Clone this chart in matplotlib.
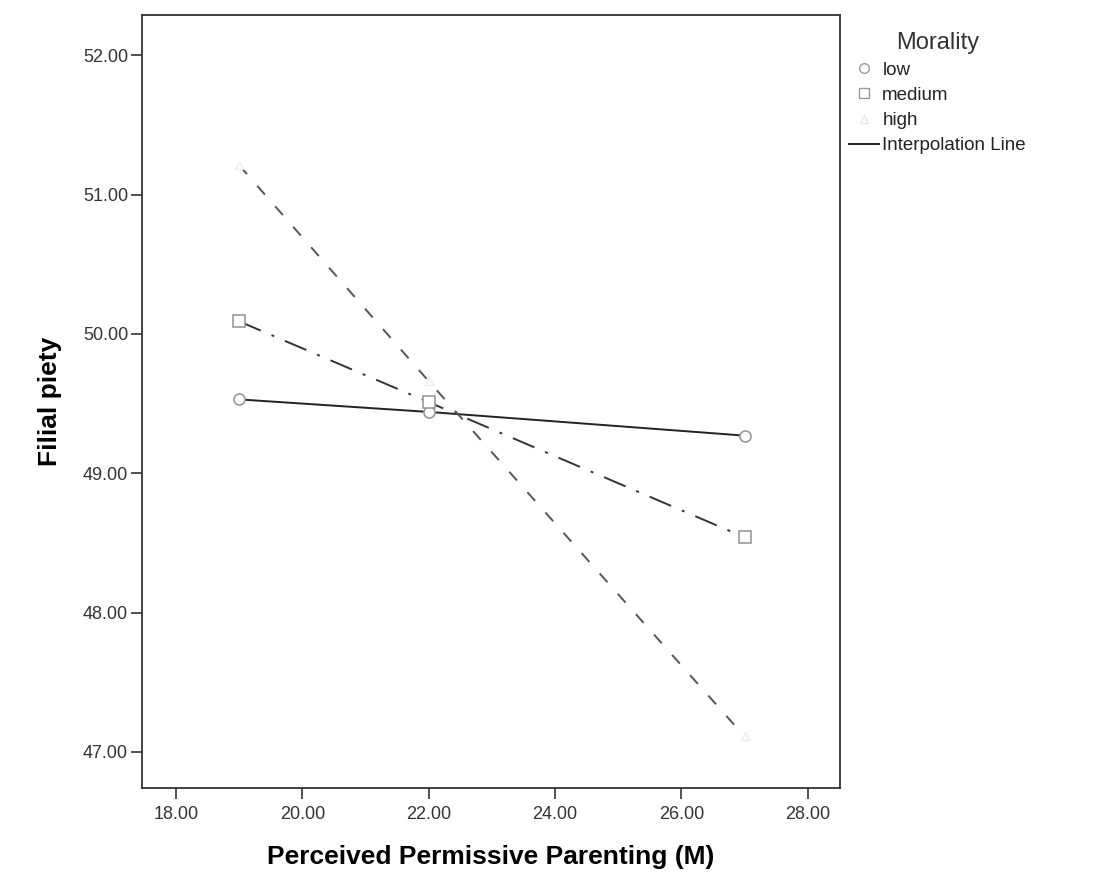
import matplotlib
matplotlib.use("Agg")
import matplotlib.pyplot as plt
from matplotlib.lines import Line2D

plt.rcParams['font.family'] = ['Liberation Sans', 'DejaVu Sans']

x_levels = [19.0, 22.0, 27.0]
low = [49.53, 49.44, 49.27]
medium = [50.09, 49.51, 48.54]
high = [51.21, 49.66, 47.11]
xticks = [18, 20, 22, 24, 26, 28]
yticks = [47, 48, 49, 50, 51, 52]

fig = plt.figure(figsize=(11.11, 8.86), dpi=100)
ax = fig.add_axes([142/1111, 1-788/886, (840-142)/1111, (788-15)/886])

ax.plot(x_levels, low, color='#222222', lw=1.4, ls='-',
        marker='o', ms=8, mfc='white', mec='#999999', mew=1.2)
ax.plot(x_levels, medium, color='#333333', lw=1.4, ls=(0, (12, 6, 1.5, 6)),
        marker='s', ms=8, mfc='white', mec='#999999', mew=1.2)
ax.plot(x_levels, high, color='#555555', lw=1.4, ls=(0, (6, 8)),
        marker='^', ms=6, mfc='white', mec='#ebebeb', mew=1.0)

ax.set_xlim(17.46, 28.51)
ax.set_ylim(46.74, 52.29)
ax.set_xticks(xticks)
ax.set_yticks(yticks)
ax.set_xticklabels([f"{v:.2f}" for v in xticks], fontsize=13, color='#333333')
ax.set_yticklabels([f"{v:.2f}" for v in yticks], fontsize=13, color='#333333')
ax.tick_params(axis='x', direction='out', length=8, width=1.2, color='#333333', pad=5)
ax.tick_params(axis='y', direction='out', length=8, width=1.2, color='#333333', pad=2)
for s in ax.spines.values():
    s.set_color('#333333')
    s.set_linewidth(1.3)

ax.set_xlabel("Perceived Permissive Parenting (M)", fontsize=19, fontweight='bold', labelpad=16)
ax.set_ylabel("Filial piety", fontsize=19, fontweight='bold', labelpad=15)

handles = [
    Line2D([], [], ls='none', marker='o', ms=7, mfc='white', mec='#999999'),
    Line2D([], [], ls='none', marker='s', ms=7, mfc='white', mec='#999999'),
    Line2D([], [], ls='none', marker='^', ms=6, mfc='white', mec='#e6e6e6'),
    Line2D([], [], color='#222222', lw=1.4),
]
labels = ["low", "medium", "high", "Interpolation Line"]
leg = fig.legend(handles, labels, title="Morality", loc='upper left',
                 bbox_to_anchor=(841/1111, 1-24/886), frameon=False,
                 fontsize=13.5, title_fontsize=17, handlelength=1.6,
                 handletextpad=0.2, labelspacing=0.43, borderaxespad=0)
leg.get_title().set_color('#333333')
for t in leg.get_texts():
    t.set_color('#222222')

fig.savefig("out.png", dpi=100)
